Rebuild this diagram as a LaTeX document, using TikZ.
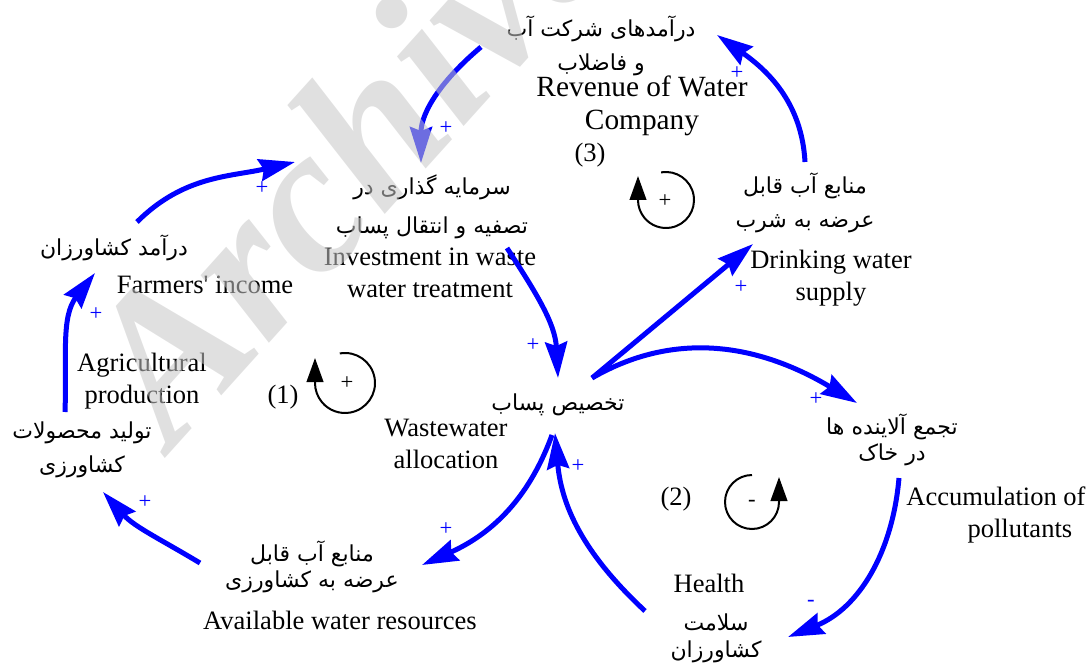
\documentclass[tikz,border=0pt]{standalone}
\usepackage{fontspec}
\setmainfont{Liberation Serif}
\newfontfamily\persfont[Script=Arabic]{DejaVu Sans}
\TeXXeTstate=1
\usetikzlibrary{arrows.meta}
\newcommand{\rl}[1]{\beginR#1\endR}

\begin{document}
\begin{tikzpicture}[x=0.75pt,y=0.75pt,yscale=-1,xscale=1,
  en/.style={font=\fontsize{19.9}{23.5}\selectfont, align=center, inner sep=0pt},
  fa/.style={font=\persfont\fontsize{16.5}{#1}\selectfont, align=center, inner sep=0pt},
  fa/.default=19,
  sgn/.style={text=blue, font=\fontsize{17}{17}\selectfont, inner sep=0pt},
  lsgn/.style={font=\fontsize{17}{17}\selectfont, inner sep=0pt},
  link/.style={draw=blue, line width=3.75pt, -{Stealth[length=27pt,width=16.5pt,inset=3pt]}},
  loopline/.style={line width=1.5pt, -{Triangle[length=18pt,width=12.5pt]}}]
\useasboundingbox (0,0) rectangle (1089,663);
% variables
\node[fa=26] (rev-fa) at (601,46) {\rl{درآمدهای شرکت آب}\\\rl{و فاضلاب}};
\node[en, font=\fontsize{22}{24.5}\selectfont] (rev-en) at (642,106) {Revenue of Water\\Company};
\node[fa=29] (inv-fa) at (432,207) {\rl{سرمایه گذاری در}\\\rl{تصفیه و انتقال پساب}};
\node[en] (inv-en) at (430,273) {Investment in waste\\water treatment};
\node[fa] (inc-fa) at (114,248) {\rl{درآمد کشاورزان}};
\node[en] (inc-en) at (205,285) {Farmers\textquotesingle{} income};
\node[en] (agr-en) at (142,381) {Agricultural\\production};
\node[fa=25.5] (agr-fa) at (82,450) {\rl{تولید محصولات}\\\rl{کشاورزی}};
\node[fa] (wwa-fa) at (558,405) {\rl{تخصیص پساب}};
\node[en] (wwa-en) at (446,444) {Wastewater\\allocation};
\node[fa=19] (avw-fa) at (312,567) {\rl{منابع آب قابل}\\\rl{عرضه به کشاورزی}};
\node[en] (avw-en) at (340,620) {Available water resources};
\node[en] (hea-en) at (709,583) {Health};
\node[fa=20] (hea-fa) at (716,638) {\rl{سلامت}\\\rl{کشاورزان}};
\node[fa=19] (acc-fa) at (892,440) {\rl{تجمع آلاینده ها}\\\rl{در خاک}};
\node[en, align=right] (acc-en) at (996,515) {Accumulation of\\pollutants\hspace*{10pt}};
\node[fa=25] (drk-fa) at (805,203) {\rl{منابع آب قابل}\\\rl{عرضه به شرب}};
\node[en] (drk-en) at (831,278) {Drinking water\\supply};
% link ends
\coordinate (rev-o) at (481,47);
\coordinate (rev-i) at (717,35);
\coordinate (inv-i1) at (421,163);
\coordinate (inv-i2) at (295,162);
\coordinate (inv-o) at (507,248);
\coordinate (inc-o) at (137,222);
\coordinate (inc-i) at (95,273);
\coordinate (agr-o) at (65,412);
\coordinate (agr-i) at (103,492);
\coordinate (avw-o) at (200,563);
\coordinate (avw-i) at (422,565);
\coordinate (wwa-i1) at (558,378);
\coordinate (wwa-i2) at (555,433);
\coordinate (wwa-o1) at (552,435);
\coordinate (wwa-o2) at (592,378);
\coordinate (hea-o) at (645,611);
\coordinate (hea-i) at (788,637);
\coordinate (acc-o) at (899,478);
\coordinate (acc-i) at (857,403);
\coordinate (drk-i) at (753,244);
\coordinate (drk-o) at (805,162);
% links
\draw[link] (rev-o) to[out=140,in=270] (inv-i1);
\draw[link] (inc-o) to[out=-45,in=167] (inv-i2);
\draw[link] (agr-o) to[out=-88,in=128] (inc-i);
\draw[link] (avw-o) to[out=211,in=48] (agr-i);
\draw[link] (wwa-o1) to[out=110,in=-24] (avw-i);
\draw[link] (hea-o) to[out=223,in=85] (wwa-i2);
\draw[link] (acc-o) to[out=95,in=-22] (hea-i);
\draw[link] (wwa-o2) to[out=-30,in=211] (acc-i);
\draw[link] (wwa-o2) -- (drk-i);
\draw[link] (drk-o) to[out=267,in=35] (rev-i);
\draw[link] (inv-o) to[out=57,in=267] (wwa-i1);
% polarities
\node[sgn] (s-a) at (446,128) {+};
\node[sgn] (s-b) at (262,188) {+};
\node[sgn] (s-c) at (96,314) {+};
\node[sgn] (s-d) at (145,502) {+};
\node[sgn] (s-e) at (446,529) {+};
\node[sgn] (s-f) at (578,466) {+};
\node[sgn] (s-g) at (811,603) {-};
\node[sgn] (s-h) at (816,399) {+};
\node[sgn] (s-i) at (741,287) {+};
\node[sgn] (s-j) at (737,73) {+};
\node[sgn] (s-k) at (533,345) {+};
% loops
\draw[loopline] (345,383) ++(-100:30) arc[start angle=-100, end angle=180, radius=30] -- ++(0,-25);
\node[lsgn] (l1-s) at (347,383) {+};
\node[en] (l1) at (283,397) {(1)};
\draw[loopline] (752,502) ++(-90:27) arc[start angle=-90, end angle=-360, radius=27] -- ++(0,-25);
\node[lsgn] (l2-s) at (752,503) {-};
\node[en] (l2) at (676,499) {(2)};
\draw[loopline] (666,200) ++(-100:28) arc[start angle=-100, end angle=180, radius=28] -- ++(0,-24);
\node[lsgn] (l3-s) at (665,201) {+};
\node[en] (l3) at (590,155) {(3)};
% watermark
\node[rotate=48, text=black!22, text opacity=0.55, font=\fontsize{157}{157}\bfseries\itshape\selectfont, inner sep=0pt] (mark) at (345,152) {Archive};
\end{tikzpicture}
\end{document}
